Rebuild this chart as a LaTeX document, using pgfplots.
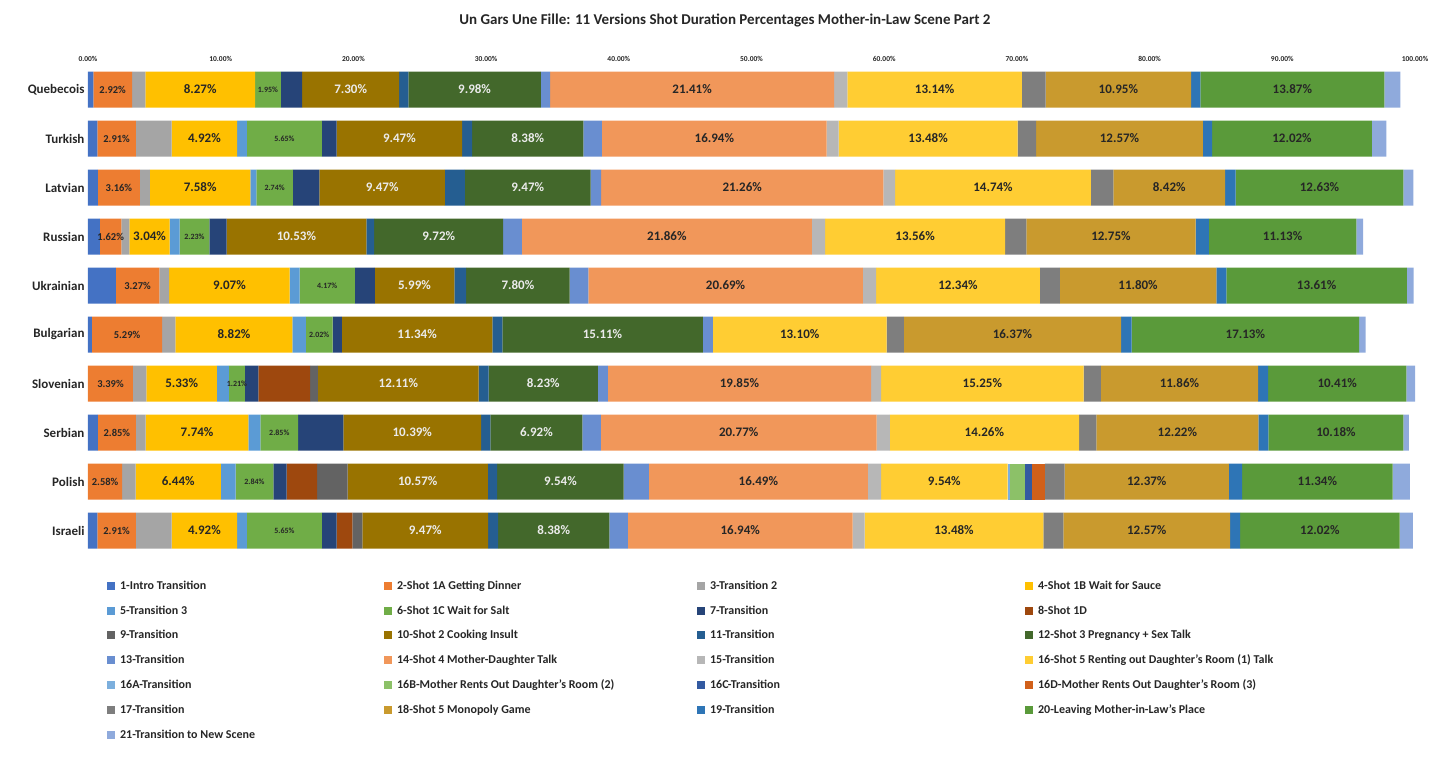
\documentclass[border=0pt]{standalone}
\usepackage{pgfplots}
\pgfplotsset{compat=1.18}
\usepackage{fontspec}
\setmainfont{Carlito}
\definecolor{c1}{HTML}{4472C4}\definecolor{c2}{HTML}{ED7D31}\definecolor{c3}{HTML}{A5A5A5}
\definecolor{c4}{HTML}{FFC000}\definecolor{c5}{HTML}{5B9BD5}\definecolor{c6}{HTML}{70AD47}
\definecolor{c7}{HTML}{264478}\definecolor{c8}{HTML}{9E480E}\definecolor{c9}{HTML}{636363}
\definecolor{c10}{HTML}{997300}\definecolor{c11}{HTML}{255E91}\definecolor{c12}{HTML}{43682B}
\definecolor{c13}{HTML}{698ED0}\definecolor{c14}{HTML}{F1975A}\definecolor{c15}{HTML}{B7B7B7}
\definecolor{c16}{HTML}{FFCD33}\definecolor{c16a}{HTML}{7CAFDD}\definecolor{c16b}{HTML}{8CC168}
\definecolor{c16c}{HTML}{335AA1}\definecolor{c16d}{HTML}{D1601A}\definecolor{c17}{HTML}{7E7E7E}
\definecolor{c18}{HTML}{C99A2E}\definecolor{c19}{HTML}{2E75B6}\definecolor{c20}{HTML}{5A9A3A}
\definecolor{c21}{HTML}{8FAADC}\definecolor{txt}{HTML}{262626}
\newcommand{\LA}[1]{\makebox[262pt][l]{#1}}
\newcommand{\LB}[1]{\makebox[298pt][l]{#1}}
\newcommand{\LC}[1]{\makebox[313pt][l]{#1}}
\newcommand{\LD}[1]{\makebox[300pt][l]{#1}}
\begin{document}
\begin{tikzpicture}
\begin{axis}[
  name=ax,
  scale only axis, width=1327pt, height=490pt,
  xbar stacked, bar width=36pt,
  xmin=0, xmax=100, ymin=-0.5, ymax=9.5, y dir=reverse,
  axis line style={draw=none}, tick style={draw=none},
  xtick={0,10,...,100},
  xticklabels={0.00\%,10.00\%,20.00\%,30.00\%,40.00\%,50.00\%,60.00\%,70.00\%,80.00\%,90.00\%,100.00\%},
  xticklabel pos=upper,
  xticklabel style={font=\bfseries\fontsize{7.5}{8}\selectfont, text=txt},
  ytick={0,...,9},
  yticklabels={Quebecois,Turkish,Latvian,Russian,Ukrainian,Bulgarian,Slovenian,Serbian,Polish,Israeli},
  yticklabel style={font=\bfseries\fontsize{13}{14}\selectfont, text=txt},
  title={Un Gars Une Fille:  11 Versions Shot Duration Percentages Mother-in-Law Scene Part 2},
  title style={font=\bfseries\fontsize{15}{16}\selectfont, text=txt, at={(0.48,1)}, anchor=south, yshift=28pt},
  every node near coord/.append style={font=\bfseries\fontsize{13}{14}\selectfont, text=txt},
  legend columns=4,
  legend cell align=left,
  legend style={at={(0.012,-0.045)}, anchor=north west, draw=none, fill=none,
    font=\bfseries\fontsize{12}{13}\selectfont, text=txt, row sep=10.6pt,
    /tikz/every odd column/.append style={column sep=3pt}},
  legend image code/.code={\fill[#1] (0pt,-4pt) rectangle (8pt,4pt);},
]
\addplot[fill=c1,draw=none] coordinates {(0.4,0)(0.7,1)(0.75,2)(0.9,3)(2.1,4)(0.3,5)(0,6)(0.75,7)(0,8)(0.7,9)};
\addlegendentry{\LA{1-Intro Transition}}
\addplot[fill=c2,draw=none,point meta=explicit symbolic,nodes near coords,every node near coord/.append style={font=\bfseries\fontsize{10.5}{12}\selectfont}] coordinates {(2.92,0)[2.92\%](2.91,1)[2.91\%](3.16,2)[3.16\%](1.62,3)[1.62\%](3.27,4)[3.27\%](5.29,5)[5.29\%](3.39,6)[3.39\%](2.85,7)[2.85\%](2.58,8)[2.58\%](2.91,9)[2.91\%]};
\addlegendentry{\LB{2-Shot 1A Getting Dinner}}
\addplot[fill=c3,draw=none] coordinates {(1.0,0)(2.7,1)(0.75,2)(0.6,3)(0.75,4)(1.0,5)(1.0,6)(0.75,7)(1.0,8)(2.7,9)};
\addlegendentry{\LC{3-Transition 2}}
\addplot[fill=c4,draw=none,point meta=explicit symbolic,nodes near coords] coordinates {(8.27,0)[8.27\%](4.92,1)[4.92\%](7.58,2)[7.58\%](3.04,3)[3.04\%](9.07,4)[9.07\%](8.82,5)[8.82\%](5.33,6)[5.33\%](7.74,7)[7.74\%](6.44,8)[6.44\%](4.92,9)[4.92\%]};
\addlegendentry{\LD{4-Shot 1B Wait for Sauce}}
\addplot[fill=c5,draw=none] coordinates {(0,0)(0.75,1)(0.45,2)(0.75,3)(0.75,4)(1.0,5)(0.9,6)(0.9,7)(1.1,8)(0.75,9)};
\addlegendentry{\LA{5-Transition 3}}
\addplot[fill=c6,draw=none,point meta=explicit symbolic,nodes near coords,every node near coord/.append style={font=\bfseries\fontsize{8}{9}\selectfont}] coordinates {(1.95,0)[1.95\%](5.65,1)[5.65\%](2.74,2)[2.74\%](2.23,3)[2.23\%](4.17,4)[4.17\%](2.02,5)[2.02\%](1.21,6)[1.21\%](2.85,7)[2.85\%](2.84,8)[2.84\%](5.65,9)[5.65\%]};
\addlegendentry{\LB{6-Shot 1C Wait for Salt}}
\addplot[fill=c7,draw=none] coordinates {(1.6,0)(1.1,1)(2.0,2)(1.3,3)(1.5,4)(0.7,5)(1.0,6)(3.4,7)(1.0,8)(1.1,9)};
\addlegendentry{\LC{7-Transition}}
\addplot[fill=c8,draw=none] coordinates {(0,0)(0,1)(0,2)(0,3)(0,4)(0,5)(3.9,6)(0,7)(2.3,8)(1.2,9)};
\addlegendentry{\LD{8-Shot 1D}}
\addplot[fill=c9,draw=none] coordinates {(0,0)(0,1)(0,2)(0,3)(0,4)(0,5)(0.6,6)(0,7)(2.3,8)(0.75,9)};
\addlegendentry{\LA{9-Transition}}
\addplot[fill=c10,draw=none,point meta=explicit symbolic,nodes near coords,every node near coord/.append style={text=white!92!black}] coordinates {(7.30,0)[7.30\%](9.47,1)[9.47\%](9.47,2)[9.47\%](10.53,3)[10.53\%](5.99,4)[5.99\%](11.34,5)[11.34\%](12.11,6)[12.11\%](10.39,7)[10.39\%](10.57,8)[10.57\%](9.47,9)[9.47\%]};
\addlegendentry{\LB{10-Shot 2 Cooking Insult}}
\addplot[fill=c11,draw=none] coordinates {(0.7,0)(0.75,1)(1.5,2)(0.6,3)(0.9,4)(0.75,5)(0.75,6)(0.7,7)(0.7,8)(0.75,9)};
\addlegendentry{\LC{11-Transition}}
\addplot[fill=c12,draw=none,point meta=explicit symbolic,nodes near coords,every node near coord/.append style={text=white!92!black}] coordinates {(9.98,0)[9.98\%](8.38,1)[8.38\%](9.47,2)[9.47\%](9.72,3)[9.72\%](7.80,4)[7.80\%](15.11,5)[15.11\%](8.23,6)[8.23\%](6.92,7)[6.92\%](9.54,8)[9.54\%](8.38,9)[8.38\%]};
\addlegendentry{\LD{12-Shot 3 Pregnancy + Sex Talk}}
\addplot[fill=c13,draw=none] coordinates {(0.7,0)(1.4,1)(0.8,2)(1.4,3)(1.4,4)(0.75,5)(0.75,6)(1.4,7)(1.9,8)(1.4,9)};
\addlegendentry{\LA{13-Transition}}
\addplot[fill=c14,draw=none,point meta=explicit symbolic,nodes near coords] coordinates {(21.41,0)[21.41\%](16.94,1)[16.94\%](21.26,2)[21.26\%](21.86,3)[21.86\%](20.69,4)[20.69\%](0,5)[](19.85,6)[19.85\%](20.77,7)[20.77\%](16.49,8)[16.49\%](16.94,9)[16.94\%]};
\addlegendentry{\LB{14-Shot 4 Mother-Daughter Talk}}
\addplot[fill=c15,draw=none] coordinates {(1.0,0)(0.9,1)(0.9,2)(1.0,3)(1.0,4)(0,5)(0.75,6)(1.0,7)(1.0,8)(0.9,9)};
\addlegendentry{\LC{15-Transition}}
\addplot[fill=c16,draw=none,point meta=explicit symbolic,nodes near coords] coordinates {(13.14,0)[13.14\%](13.48,1)[13.48\%](14.74,2)[14.74\%](13.56,3)[13.56\%](12.34,4)[12.34\%](13.10,5)[13.10\%](15.25,6)[15.25\%](14.26,7)[14.26\%](9.54,8)[9.54\%](13.48,9)[13.48\%]};
\addlegendentry{\LD{16-Shot 5 Renting out Daughter's Room (1) Talk}}
\addplot[fill=c16a,draw=none] coordinates {(0,0)(0,1)(0,2)(0,3)(0,4)(0,5)(0,6)(0,7)(0.2,8)(0,9)};
\addlegendentry{\LA{16A-Transition}}
\addplot[fill=c16b,draw=none] coordinates {(0,0)(0,1)(0,2)(0,3)(0,4)(0,5)(0,6)(0,7)(1.1,8)(0,9)};
\addlegendentry{\LB{16B-Mother Rents Out Daughter's Room (2)}}
\addplot[fill=c16c,draw=none] coordinates {(0,0)(0,1)(0,2)(0,3)(0,4)(0,5)(0,6)(0,7)(0.5,8)(0,9)};
\addlegendentry{\LC{16C-Transition}}
\addplot[fill=c16d,draw=none] coordinates {(0,0)(0,1)(0,2)(0,3)(0,4)(0,5)(0,6)(0,7)(1.0,8)(0,9)};
\addlegendentry{\LD{16D-Mother Rents Out Daughter's Room (3)}}
\addplot[fill=c17,draw=none] coordinates {(1.8,0)(1.4,1)(1.7,2)(1.6,3)(1.5,4)(1.3,5)(1.3,6)(1.3,7)(1.5,8)(1.5,9)};
\addlegendentry{\LA{17-Transition}}
\addplot[fill=c18,draw=none,point meta=explicit symbolic,nodes near coords] coordinates {(10.95,0)[10.95\%](12.57,1)[12.57\%](8.42,2)[8.42\%](12.75,3)[12.75\%](11.80,4)[11.80\%](16.37,5)[16.37\%](11.86,6)[11.86\%](12.22,7)[12.22\%](12.37,8)[12.37\%](12.57,9)[12.57\%]};
\addlegendentry{\LB{18-Shot 5 Monopoly Game}}
\addplot[fill=c19,draw=none] coordinates {(0.7,0)(0.7,1)(0.8,2)(1.0,3)(0.75,4)(0.8,5)(0.75,6)(0.75,7)(1.0,8)(0.75,9)};
\addlegendentry{\LC{19-Transition}}
\addplot[fill=c20,draw=none,point meta=explicit symbolic,nodes near coords] coordinates {(13.87,0)[13.87\%](12.02,1)[12.02\%](12.63,2)[12.63\%](11.13,3)[11.13\%](13.61,4)[13.61\%](17.13,5)[17.13\%](10.41,6)[10.41\%](10.18,7)[10.18\%](11.34,8)[11.34\%](12.02,9)[12.02\%]};
\addlegendentry{\LD{20-Leaving Mother-in-Law's Place}}
\addplot[fill=c21,draw=none] coordinates {(1.2,0)(1.1,1)(0.75,2)(0.5,3)(0.5,4)(0.5,5)(0.7,6)(0.4,7)(1.3,8)(1.0,9)};
\addlegendentry{\LA{21-Transition to New Scene}}
\end{axis}
\pgfresetboundingbox
\path ([xshift=-88pt,yshift=-206pt]ax.south west) rectangle ([xshift=35pt,yshift=65pt]ax.north east);
\end{tikzpicture}
\end{document}
